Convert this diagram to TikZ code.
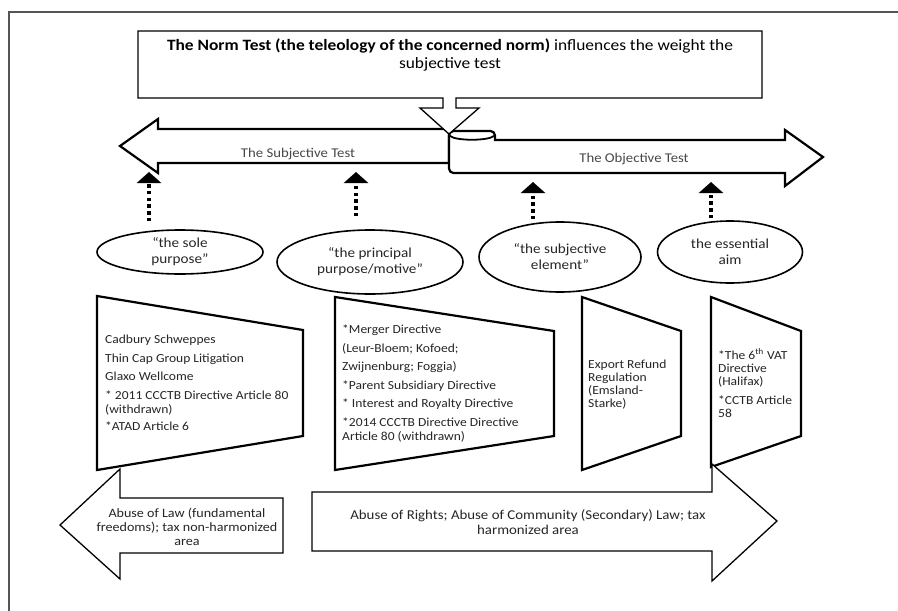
\documentclass[tikz,border=0pt]{standalone}
\usepackage{fontspec}
\setmainfont{Carlito}[FakeStretch=1.1]
\usetikzlibrary{arrows.meta,shapes.geometric,calc}
\newcommand{\fsz}[2]{\fontsize{#1}{#2}\selectfont}
\definecolor{ink}{HTML}{262626}
\definecolor{framec}{HTML}{555555}
\begin{document}
\begin{tikzpicture}[x=1pt,y=-1pt,
  thickline/.style={draw=black, line width=2.2pt, line join=miter, fill=white},
  thinline/.style={draw=black, line width=1.3pt, line join=miter, fill=white},
  oval/.style={ellipse, draw=black, line width=1.6pt, inner sep=0pt, align=center, text=ink, font=\fsz{13.8}{16}},
  txt/.style={align=left, inner sep=0pt, text=ink, font=\fsz{12.3}{14}},
  txtb/.style={align=left, inner sep=0pt, text=ink, font=\fsz{12.3}{13}},
  dotarrow/.style={draw=black, line width=3.5pt, dash pattern=on 3.5pt off 3.2pt, -{Triangle[width=24pt,length=11pt]}}
]
\useasboundingbox (0,0) rectangle (898,611);
% frame
\draw[framec, line width=1.4pt] (898,12) -- (9,12) -- (9,611);

% subjective test arrow (left)
\draw[thickline] (120,146) -- (158,119) -- (158,129) -- (449,129) -- (449,163) -- (158,163) -- (158,173) -- cycle;
\node[text=ink!85, font=\fsz{13.4}{15}, inner sep=0pt] (subj) at (298,154) {The Subjective Test};

% objective test arrow (right, scroll)
\draw[thickline] (470,173) -- (785,173) -- (785,186) -- (823,157) -- (785,130) -- (785,140) -- (495,140) [rounded corners=4.5pt] -- (495,131) -- (449,131) -- (449,173) -- cycle;
\draw[black, line width=1.8pt] (450,136) .. controls (456,141) and (488,141) .. (494,136);
\node[text=ink!85, font=\fsz{13.4}{15}, inner sep=0pt] (obj) at (634,159) {The Objective Test};

% callout
\draw[thinline] (138,31) -- (762,31) -- (762,98) -- (456,98) -- (456,108) -- (479,108) -- (449,134) -- (420,108) -- (443,108) -- (443,98) -- (138,98) -- cycle;
\node[align=center, inner sep=0pt, text=black, font=\fsz{15.8}{18}] (title) at (450,55)
  {\textbf{The Norm Test (the teleology of the concerned norm)} influences the weight the\\subjective test};

% ellipses
\node[oval, minimum width=166pt, minimum height=44pt] (e1) at (180,252) {“the sole\\purpose”};
\node[oval, minimum width=186pt, minimum height=64pt] (e2) at (370,262) {“the principal\\purpose/motive”};
\node[oval, minimum width=162pt, minimum height=70pt] (e3) at (560,257) {“the subjective\\element”};
\node[oval, minimum width=145pt, minimum height=62pt] (e4) at (730,252) {the essential\\aim};

% dotted arrows
\coordinate (t1) at (149,172);
\coordinate (t2) at (356,172);
\coordinate (t3) at (533,182);
\coordinate (t4) at (711,182);
\draw[dotarrow] ($(e1.north -| t1)+(0,-8)$) -- (t1);
\draw[dotarrow] ($(e2.north -| t2)+(0,-13)$) -- (t2);
\draw[dotarrow] ($(e3.north -| t3)+(0,-2)$) -- (t3);
\draw[dotarrow] ($(e4.north -| t4)+(0,-2)$) -- (t4);

% trapezoids
\draw[thickline] (97,296) -- (303,330) -- (303,436) -- (97,470) -- cycle;
\draw[thickline] (335,297) -- (554,331) -- (554,436) -- (335,470) -- cycle;
\draw[thickline] (582,297) -- (681,331) -- (681,436) -- (582,470) -- cycle;
\draw[thickline] (711,297) -- (801,331) -- (801,436) -- (711,467) -- cycle;

% (base anchor of a multi-line node = baseline of its last line)
\node[txt, anchor=base west] (l1) at (105,430) {Cadbury Schweppes\\[4.5pt] Thin Cap Group Litigation\\[4.5pt] Glaxo Wellcome\\[4.5pt] * 2011 CCCTB Directive Article 80\\ (withdrawn)\\[3pt] *ATAD Article 6};
\node[txt, anchor=base west] (l2) at (342,440) {*Merger Directive\\[4.5pt] (Leur-Bloem; Kofoed;\\[4.5pt] Zwijnenburg; Foggia)\\[4.5pt] *Parent Subsidiary Directive\\[4.5pt] * Interest and Royalty Directive\\[4.5pt] *2014 CCCTB Directive Directive\\ Article 80 (withdrawn)};
\node[txtb, anchor=base west] (l3) at (588,407) {Export Refund\\ Regulation\\ (Emsland-\\ Starke)};
\node[txtb, anchor=base west] (l4) at (718,417) {*The 6\textsuperscript{th} VAT\\ Directive\\ (Halifax)\\[6pt] *CCTB Article\\ 58};

% bottom arrows
\draw[thinline] (60,525) -- (120,469) -- (120,498) -- (283,498) -- (283,553) -- (120,553) -- (120,579) -- cycle;
\node[align=center, inner sep=0pt, text=ink, font=\fsz{12.8}{14}] (law) at (187,527) {Abuse of Law (fundamental\\freedoms); tax non-harmonized\\area};
\draw[thinline] (312,492) -- (712,492) -- (712,464) -- (777,521) -- (712,581) -- (712,551) -- (312,551) -- cycle;
\node[align=center, inner sep=0pt, text=ink, font=\fsz{13.5}{15}] (rights) at (528,522) {Abuse of Rights; Abuse of Community (Secondary) Law; tax\\harmonized area};
\end{tikzpicture}
\end{document}
